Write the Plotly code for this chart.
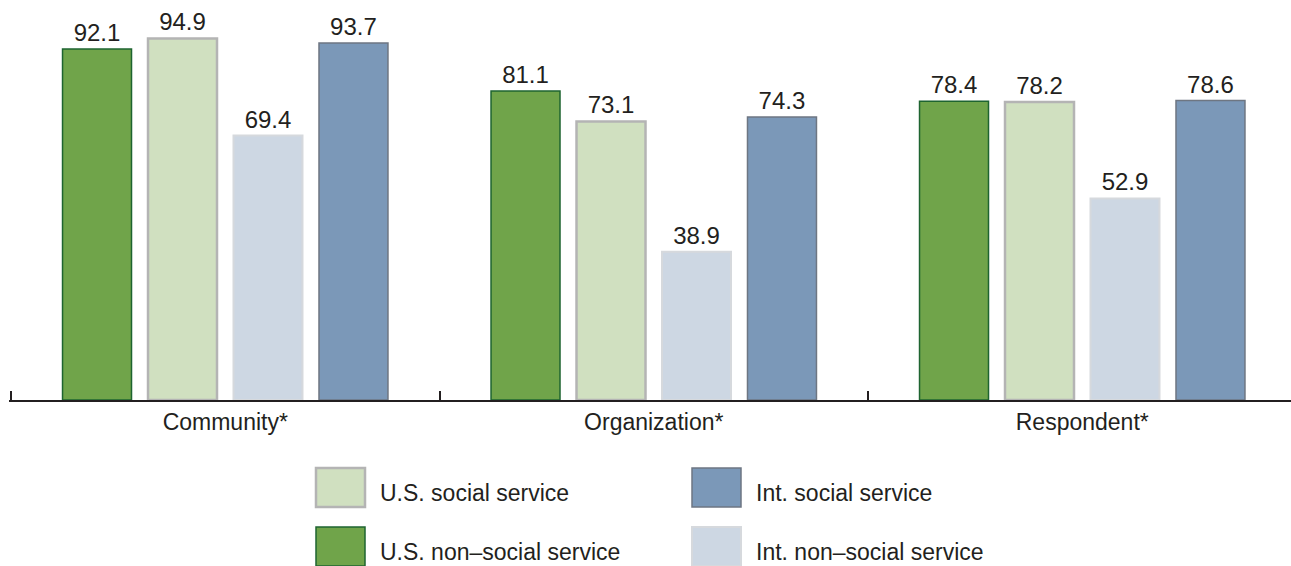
import plotly.graph_objects as go

# Categories and series values (percent)
categories = ["Community*", "Organization*", "Respondent*"]
us_non_social = [92.1, 81.1, 78.4]
us_social = [94.9, 73.1, 78.2]
int_non_social = [69.4, 38.9, 52.9]
int_social = [93.7, 74.3, 78.6]

series = [
    ("U.S. non\u2013social service", us_non_social, "#70A44A", "#1E6430", 1.5),
    ("U.S. social service", us_social, "#D0E0C0", "#B4B4B4", 2.5),
    ("Int. non\u2013social service", int_non_social, "#CDD7E3", "#D6D9DD", 2),
    ("Int. social service", int_social, "#7B98B8", "#6E7682", 1.5),
]

W, H = 1291, 566
ML, MR, MT, MB = 9, 0, 19, 166
UNIT = 428.5          # pixels per category
X0 = -0.5 - 2 / UNIT  # leave room for the first boundary tick
FONT = "Liberation Sans, Arial, Helvetica, sans-serif"
INK = "#231F20"

fig = go.Figure()
for name, vals, fill, edge, lw in series:
    fig.add_trace(go.Bar(
        name=name,
        x=list(range(len(categories))),
        y=vals,
        marker=dict(color=fill, line=dict(color=edge, width=lw)),
        text=[f"{v:.1f}" for v in vals],
        textposition="outside",
        textfont=dict(family=FONT, size=24, color=INK),
        cliponaxis=False,
        showlegend=False,
        hoverinfo="skip",
    ))

# pixel -> paper helpers for the hand-built legend
pw = W - ML - MR
ph = H - MT - MB
def px(x):
    return (x - ML) / pw
def py(y):
    return (H - MB - y) / ph

legend_items = [
    ("U.S. social service", "#D0E0C0", "#B4B4B4", 2.5, 316, 468),
    ("U.S. non\u2013social service", "#70A44A", "#1E6430", 1.5, 316, 527),
    ("Int. social service", "#7B98B8", "#6E7682", 1.5, 692, 468),
    ("Int. non\u2013social service", "#CDD7E3", "#D6D9DD", 2, 692, 527),
]
shapes = []
annotations = []
for label, fill, edge, lw, x0, y0 in legend_items:
    shapes.append(dict(
        type="rect", xref="paper", yref="paper",
        x0=px(x0), x1=px(x0 + 49), y0=py(y0 + 39), y1=py(y0),
        fillcolor=fill, line=dict(color=edge, width=lw), layer="above",
    ))
    annotations.append(dict(
        text=label, xref="paper", yref="paper",
        x=px(x0 + 62), y=py(y0 + 25), xanchor="left", yanchor="middle",
        showarrow=False, font=dict(family=FONT, size=23, color=INK),
    ))

xrange = [X0, X0 + pw / UNIT]

fig.update_layout(
    width=W, height=H,
    margin=dict(l=ML, r=MR, t=MT, b=MB, pad=0),
    paper_bgcolor="white", plot_bgcolor="white",
    barmode="group", bargap=0.202, bargroupgap=0.193,
    font=dict(family=FONT, color=INK),
    shapes=shapes, annotations=annotations,
    xaxis=dict(
        type="linear",
        range=xrange,
        tickmode="array",
        tickvals=list(range(len(categories))),
        ticktext=categories,
        ticks="", showgrid=False, zeroline=False,
        showline=False,
        tickfont=dict(family=FONT, size=23, color=INK),
        ticklabelstandoff=6,
    ),
    yaxis=dict(range=[0, 100], visible=False, showgrid=False, zeroline=False),
)

# baseline with boundary ticks between categories
fig.update_layout(xaxis2=dict(
    overlaying="x", type="linear", range=xrange,
    tickmode="array", tickvals=[-0.5, 0.5, 1.5, 2.5], showticklabels=False,
    ticks="inside", ticklen=9, tickwidth=2, tickcolor=INK,
    showline=True, linecolor=INK, linewidth=2, showgrid=False, zeroline=False,
    anchor="y", side="bottom",
))
fig.add_trace(go.Scatter(x=[0], y=[0], xaxis="x2", mode="markers",
                         marker=dict(opacity=0), showlegend=False, hoverinfo="skip"))

fig.write_html("out.html")
